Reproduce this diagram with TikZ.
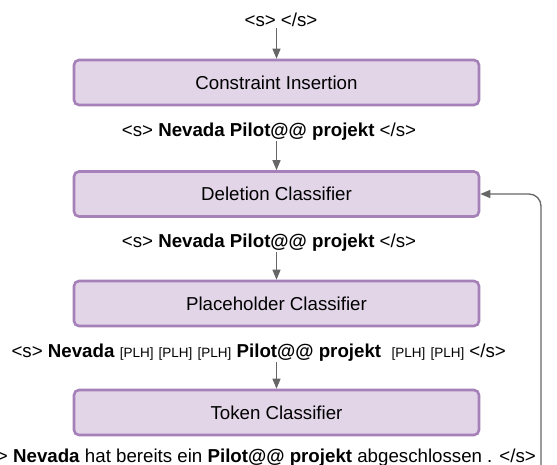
\documentclass[tikz,border=0pt]{standalone}
\usepackage{fontspec}
\setmainfont{Liberation Sans}
\usetikzlibrary{arrows.meta,positioning}
\definecolor{boxfill}{HTML}{E1D5E7}
\definecolor{boxdraw}{HTML}{A680B8}
\definecolor{linkgray}{HTML}{666666}
\newcommand\plh{{\fontsize{13.5}{16}\selectfont[PLH]}}

\begin{document}
\begin{tikzpicture}[x=1pt,y=-1pt,
module/.style={rectangle,rounded corners=5pt,draw=boxdraw,fill=boxfill,line width=2.6pt,
minimum width=405pt,minimum height=45pt,inner sep=0pt,font=\fontsize{18.7}{22}\selectfont},
stream/.style={inner sep=1pt,anchor=base,font=\fontsize{18.7}{22}\selectfont},
flow/.style={draw=linkgray,line width=1.3pt,-{Triangle[length=10pt,width=8pt]}}]
    \useasboundingbox (0,0) rectangle (557,464);
    % modules
    \node[module] (insert) at (276.5,82.5) {Constraint Insertion};
    \node[module] (delete) at (276.5,194) {Deletion Classifier};
    \node[module] (place) at (276.5,303.5) {Placeholder Classifier};
    \node[module] (token) at (276.5,412.5) {Token Classifier};
    % token streams
    \node[stream] (in) at (281,26.5) {<s> </s>};
    \node[stream] (afterins) at (269,136) {<s> \textbf{Nevada Pilot@@ projekt} </s>};
    \node[stream] (afterdel) at (269,247) {<s> \textbf{Nevada Pilot@@ projekt} </s>};
    \node[stream] (afterplh) at (258.7,357) {<s> \textbf{Nevada} \plh\ \plh\ \plh\ \textbf{Pilot@@ projekt}\ \ \plh\ \plh\ </s>};
    \node[stream,anchor=base east] (out) at (537,462) {<s> \textbf{Nevada} hat bereits ein \textbf{Pilot@@ projekt} abgeschlossen . </s>};
    \coordinate (back) at (541,480);
    % links
    \draw[flow] (insert.north |- in.south) to (insert.north);
    \draw[flow] (delete.north |- afterins.south) to (delete.north);
    \draw[flow] (place.north |- afterdel.south) to (place.north);
    \draw[flow] (token.north |- afterplh.south) to (token.north);
    \draw[flow,rounded corners=12pt] (back) |- (delete.east);
\end{tikzpicture}
\end{document}
